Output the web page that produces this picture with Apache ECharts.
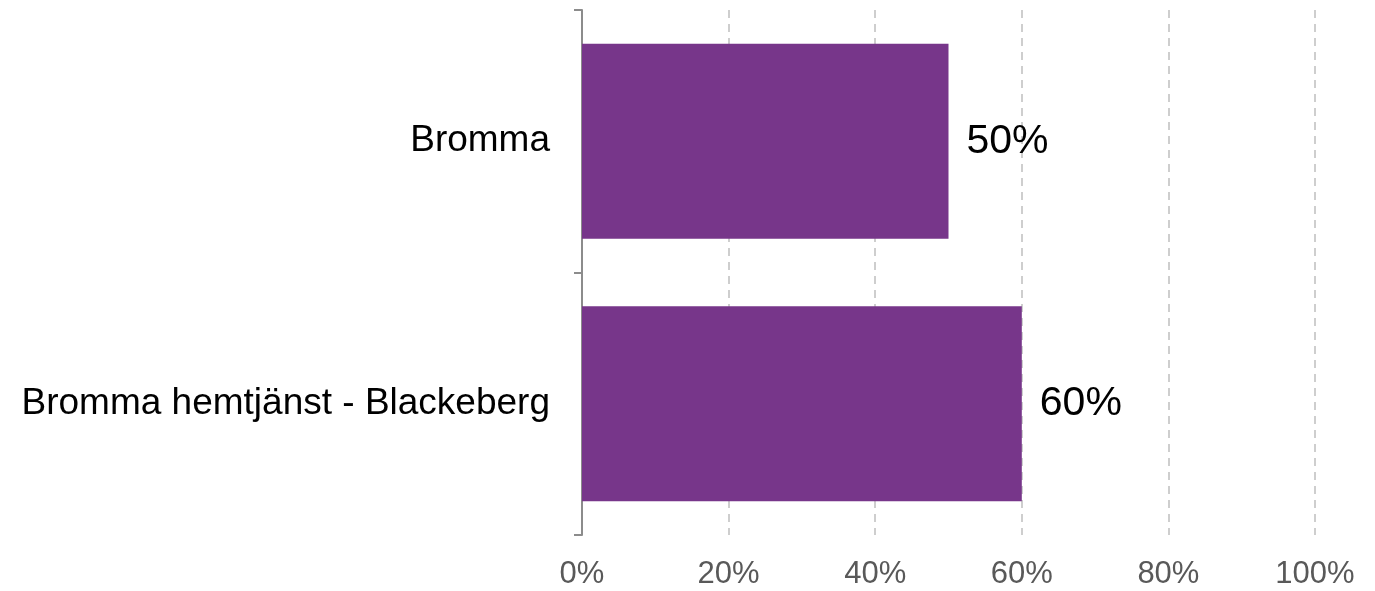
<!DOCTYPE html>
<html>
<head>
<meta charset="utf-8">
<script src="https://cdn.jsdelivr.net/npm/echarts@6/dist/echarts.min.js"></script>
<style>
  html, body { margin: 0; padding: 0; background: #fff; }
  #main { width: 1375px; height: 591px; }
</style>
</head>
<body>
<div id="main"></div>
<script>
// kategorier, uppifrån och ned
var categories = ['Bromma', 'Bromma hemtjänst - Blackeberg']
var values = [50, 60]
var xTicks = [0, 20, 40, 60, 80, 100]

var chart = echarts.init(document.getElementById('main'))

var option = {
    animation: false,
    grid: {
        left: 582,
        right: 60,
        top: 10,
        bottom: 56,
        containLabel: false
    },
    xAxis: {
        type: 'value',
        min: xTicks[0],
        max: xTicks[xTicks.length - 1],
        interval: 20,
        axisLine: { show: false },
        axisTick: { show: false },
        axisLabel: {
            color: '#595959',
            fontFamily: 'Liberation Sans',
            fontSize: 31,
            margin: 24,
            formatter: function (v) { return v + '%' }
        },
        splitLine: {
            show: true,
            lineStyle: { color: '#BFBFBF', width: 1.5, type: [8, 6] }
        }
    },
    yAxis: {
        type: 'category',
        inverse: true,
        data: categories,
        axisLine: { show: true, lineStyle: { color: '#8C8C8C', width: 2 } },
        axisTick: { show: true, length: 8, lineStyle: { color: '#8C8C8C', width: 2 } },
        axisLabel: {
            color: '#000',
            fontFamily: 'Liberation Sans',
            fontSize: 37,
            margin: 32
        },
        splitLine: { show: false }
    },
    series: [{
        type: 'bar',
        data: values,
        barWidth: 195,
        itemStyle: { color: '#77368A' },
        label: {
            show: true,
            position: 'right',
            distance: 18,
            color: '#000',
            fontFamily: 'Liberation Sans',
            fontSize: 41,
            formatter: function (p) { return p.value + '%' }
        }
    }]
}

chart.setOption(option)
</script>
</body>
</html>
